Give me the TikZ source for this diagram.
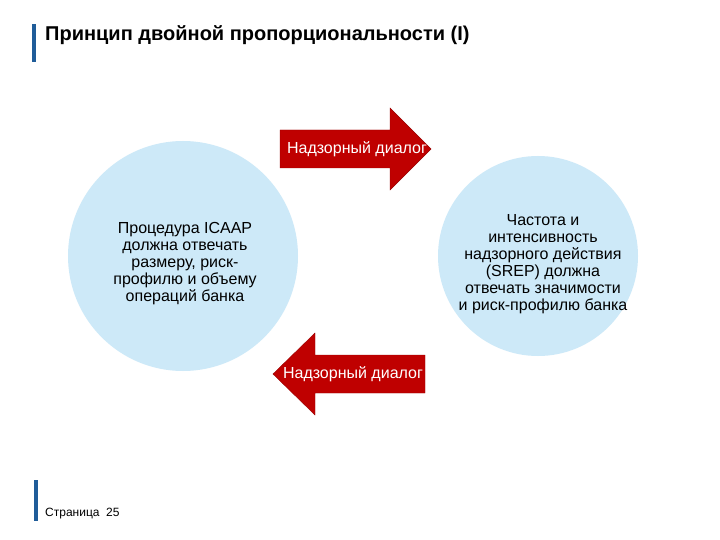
\documentclass[tikz,border=0pt]{standalone}
\usepackage{fontspec}
\setmainfont{Liberation Sans}
\begin{document}
\begin{tikzpicture}[x=1pt,y=-1pt,
  arr/.style={fill=red!75!black, draw=red!60!black},
  ctext/.style={align=center, font=\fontsize{16}{17}\selectfont},
  atext/.style={text=white, font=\fontsize{16}{18}\selectfont}]
\fill[white] (0,0) rectangle (720,540);
\useasboundingbox (0,0) rectangle (720,540);
\definecolor{cb}{HTML}{CDE9F8}
\definecolor{bar}{HTML}{1F5C99}
\fill[bar] (32,24) rectangle (36,62);
\node[anchor=west, inner sep=0, font=\bfseries\fontsize{20}{22}\selectfont] (title) at (45,35) {Принцип двойной пропорциональности (I)};
\fill[cb] (183,256) circle (115);
\fill[cb] (538,256) circle (100);
\node[ctext] (lt) at (185,264) {Процедура ICAAP\\должна отвечать\\размеру, риск-\\профилю и объему\\операций банка};
\node[ctext] (rt) at (543,264) {Частота и\\интенсивность\\надзорного действия\\(SREP) должна\\отвечать значимости\\и риск-профилю банка};
\draw[arr] (280,130) -- (390,130) -- (390,108) -- (431,149) -- (390,190) -- (390,168) -- (280,168) -- cycle;
\node[atext] (a1) at (357,149) {Надзорный диалог};
\draw[arr] (425,355) -- (315,355) -- (315,333) -- (273,374) -- (315,415) -- (315,393) -- (425,393) -- cycle;
\node[atext] (a2) at (353,374) {Надзорный диалог};
\fill[bar] (34,480) rectangle (38,521);
\node[anchor=south west, font=\fontsize{12}{14}\selectfont, inner sep=0] (pg) at (45,519) {Страница\ \ 25};
\end{tikzpicture}
\end{document}
